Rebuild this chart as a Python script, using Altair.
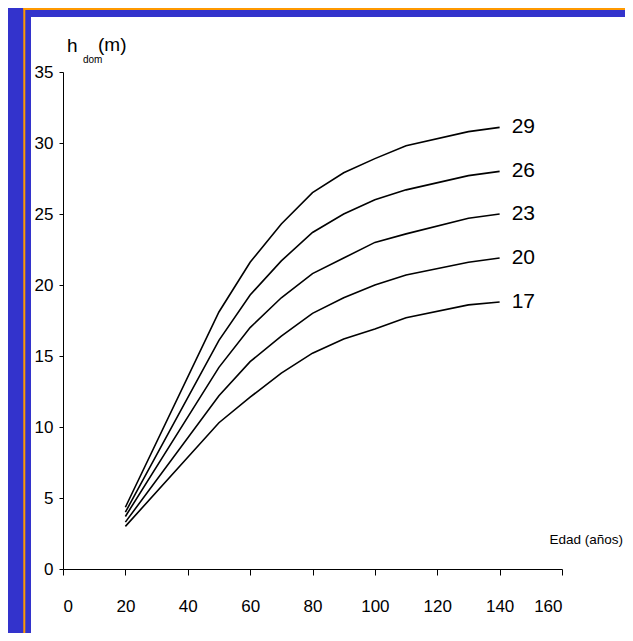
import altair as alt
import pandas as pd

# ---- data ----
ages = [20, 50, 60, 70, 80, 90, 100, 110, 130, 140]
site_index = [29, 26, 23, 20, 17]
h_si29 = [4.35, 18.1, 21.6, 24.3, 26.5, 27.9, 28.9, 29.8, 30.8, 31.1]
h_si26 = [4.0, 16.1, 19.3, 21.7, 23.7, 25.0, 26.0, 26.7, 27.7, 28.0]
h_si23 = [3.7, 14.2, 17.0, 19.1, 20.8, 21.9, 23.0, 23.6, 24.7, 25.0]
h_si20 = [3.3, 12.2, 14.6, 16.4, 18.0, 19.1, 20.0, 20.7, 21.6, 21.9]
h_si17 = [3.0, 10.3, 12.1, 13.8, 15.2, 16.2, 16.9, 17.7, 18.6, 18.8]
x_ticks = [0, 20, 40, 60, 80, 100, 120, 140, 160]
y_ticks = [0, 5, 10, 15, 20, 25, 30, 35]
x_title = "Edad (años)"
y_title_main = "h"
y_title_sub = "dom"
y_title_unit = "(m)"

series = [h_si29, h_si26, h_si23, h_si20, h_si17]
rows = []
for si, vals in zip(site_index, series):
    for a, h in zip(ages, vals):
        rows.append({"edad": a, "h": h, "si": str(si)})
df = pd.DataFrame(rows)
ends = pd.DataFrame({"edad": [ages[-1]] * len(site_index),
                     "h": [v[-1] for v in series],
                     "si": [str(s) for s in site_index]})

FONT = "Liberation Sans, Arial, Helvetica"
BLUE = "#3333CC"
ORANGE = "#FF9900"
W, H = 499, 497

xs = alt.Scale(domain=[0, 160], nice=False, zero=True)
ys = alt.Scale(domain=[0, 35], nice=False, zero=True)

one = pd.DataFrame({"k": [0]})

white_panel = alt.Chart(one).mark_rect(color="white").encode(
    x=alt.value(-32), x2=alt.value(562), y=alt.value(-55), y2=alt.value(570))
orange_v = alt.Chart(one).mark_rect(color=ORANGE).encode(
    x=alt.value(-39.7), x2=alt.value(-37.7), y=alt.value(-64), y2=alt.value(570))
orange_h = alt.Chart(one).mark_rect(color=ORANGE).encode(
    x=alt.value(-39.7), x2=alt.value(570), y=alt.value(-64), y2=alt.value(-62))

lines = alt.Chart(df).mark_line(color="black", strokeWidth=1.6).encode(
    x=alt.X("edad:Q", scale=xs,
            axis=alt.Axis(values=x_ticks, title=None, grid=False, tickSize=6,
                          labelPadding=23, zindex=1, format="d")),
    y=alt.Y("h:Q", scale=ys,
            axis=alt.Axis(values=y_ticks, title=None, grid=False, tickSize=4,
                          labelPadding=6, zindex=1, format="d")),
    detail="si:N",
)

labels = alt.Chart(ends).mark_text(align="left", baseline="middle", dx=12,
                                   font=FONT, fontSize=21, color="black").encode(
    x=alt.X("edad:Q", scale=xs), y=alt.Y("h:Q", scale=ys), text="si:N")

xtitle = alt.Chart(one).mark_text(text=x_title, align="right", baseline="middle",
                                  font=FONT, fontSize=13.5, color="black").encode(
    x=alt.value(560), y=alt.value(468))
yt1 = alt.Chart(one).mark_text(text=y_title_main, align="left", baseline="middle",
                               font=FONT, fontSize=19, color="black").encode(
    x=alt.value(4), y=alt.value(-26))
yt2 = alt.Chart(one).mark_text(text=y_title_sub, align="left", baseline="middle",
                               font=FONT, fontSize=10, color="black").encode(
    x=alt.value(20), y=alt.value(-12))
yt3 = alt.Chart(one).mark_text(text=y_title_unit, align="left", baseline="middle",
                               font=FONT, fontSize=19, color="black").encode(
    x=alt.value(35), y=alt.value(-27))

chart = alt.layer(white_panel, orange_v, orange_h, lines, labels, xtitle, yt1, yt2, yt3).properties(
    width=W, height=H,
    background=BLUE,
    padding={"left": 55, "top": 64, "right": 63, "bottom": 64},
    autosize=alt.AutoSizeParams(type="none"),
).configure_view(stroke=None).configure_axis(
    domainColor="black", tickColor="black", labelColor="black",
    labelFont=FONT, labelFontSize=17, domainWidth=1, tickWidth=1,
)

chart.save("out.html", embed_options={"renderer": "svg", "actions": False})
